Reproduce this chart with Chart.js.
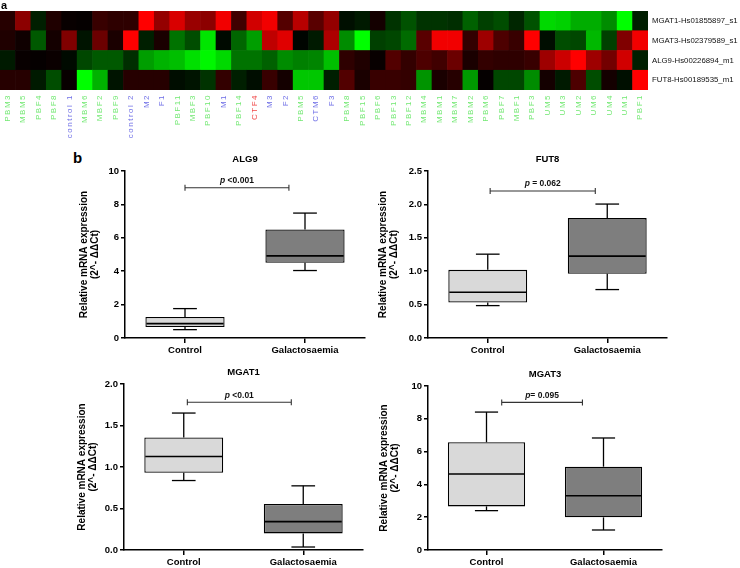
<!DOCTYPE html>
<html><head><meta charset="utf-8">
<script src="https://cdn.jsdelivr.net/npm/chart.js@4.4.1/dist/chart.umd.min.js"></script>
<style>
html,body{margin:0;padding:0;background:#fff;width:740px;height:568px;overflow:hidden;position:relative;font-family:'Liberation Sans',Arial,sans-serif}
canvas{position:absolute;display:block}
.lbl{position:absolute;font-weight:bold;color:#000;line-height:1}
</style></head><body>
<canvas id="heat" width="740" height="145" style="left:0;top:0"></canvas>
<div class="lbl" style="left:1px;top:0px;font-size:11px">a</div>
<div class="lbl" style="left:73px;top:150px;font-size:15px">b</div>
<canvas id="c1" width="320" height="225" style="left:60px;top:140px"></canvas>
<canvas id="c2" width="320" height="225" style="left:360px;top:140px"></canvas>
<canvas id="c3" width="320" height="218" style="left:60px;top:350px"></canvas>
<canvas id="c4" width="320" height="218" style="left:360px;top:350px"></canvas>
<script>
// ---------- Heatmap data (panel a) ----------
const samples = ['PBM3','MBM5','PBF4','PBF8','control 1','MBM6','MBF2','PBF9','control 2','M2','F1','PBF11','MBF3','PBF10','M1','PBF14','CTF4','M3','F2','PBM5','CTM6','F3','PBM8','PBF15','PBF6','PBF13','PBF12','MBM4','MBM1','MBM7','MBM2','PBM6','PBF7','MBF1','PBF3','UM5','UM3','UM2','UM6','UM4','UM1','PBF1'];
const sampleGroups = ['g','g','g','g','b','g','g','g','b','b','b','g','g','g','b','g','r','b','b','g','b','b','g','g','g','g','g','g','g','g','g','g','g','g','g','g','g','g','g','g','g','g'];
const genes = ['MGAT1-Hs01855897_s1','MGAT3-Hs02379589_s1','ALG9-Hs00226894_m1','FUT8-Hs00189535_m1'];
const mgat1Heat = [0.15,0.55,-0.12,0.12,0.03,0.02,0.22,0.18,0.18,1.0,0.58,0.85,0.6,0.55,0.95,0.25,0.82,0.95,0.33,0.72,0.35,0.58,-0.06,-0.1,0.08,-0.2,-0.32,-0.2,-0.2,-0.18,-0.38,-0.25,-0.3,-0.15,-0.32,-0.85,-0.82,-0.68,-0.68,-0.55,-1.0,-0.12];
const mgat3Heat = [0.12,0.06,-0.35,0.08,0.5,-0.08,0.42,0.1,1.0,-0.12,0.1,-0.45,-0.3,-0.9,-0.04,-0.4,-0.62,0.75,0.88,-0.02,-0.1,0.68,-0.55,-1.0,-0.25,-0.28,-0.42,0.35,0.95,0.95,0.2,0.62,0.3,0.22,1.0,-0.05,-0.3,-0.28,-0.72,-0.25,0.5,0.95];
const alg9Heat = [-0.1,0.03,0.02,0.04,-0.04,-0.28,-0.35,-0.35,-0.18,-0.62,-0.7,-0.75,-0.88,-0.97,-0.85,-0.45,-0.45,-0.38,-0.55,-0.5,-0.52,-0.75,0.18,0.12,0.03,0.32,0.2,0.3,0.25,0.42,0.1,0.2,0.18,0.18,0.22,0.62,0.8,1.0,0.62,0.45,0.82,-0.12];
const fut8Heat = [0.15,0.15,-0.1,-0.3,0.03,-1.0,-0.7,-0.08,0.15,0.15,0.15,-0.05,-0.08,-0.2,0.2,-0.12,-0.05,0.22,0.08,-0.78,-0.78,-0.12,0.32,0.1,0.22,0.22,0.2,-0.58,0.1,0.15,-0.6,0.02,-0.28,-0.28,-0.55,0.08,-0.1,0.3,-0.3,0.08,-0.06,1.0];

// ---------- Box plot data (panel b): [min, q1, median, q3, max] ----------
const boxGroups = ['Control','Galactosaemia'];
const alg9Control = [0.5,0.66,0.86,1.26,1.76];
const alg9Galacto = [4.04,4.5,4.92,6.5,7.48];
const fut8Control = [0.485,0.53,0.685,1.02,1.255];
const fut8Galacto = [0.725,0.96,1.225,1.795,2.005];
const mgat1Control = [0.837,0.93,1.127,1.356,1.65];
const mgat1Galacto = [0.036,0.2,0.342,0.555,0.773];
const mgat3Control = [2.4,2.66,4.63,6.57,8.41];
const mgat3Galacto = [1.22,1.99,3.31,5.08,6.83];
const alg9Ticks = [0,2,4,6,8,10];
const fut8Ticks = [0,0.5,1,1.5,2,2.5];
const mgat1Ticks = [0,0.5,1,1.5,2];
const mgat3Ticks = [0,2,4,6,8,10];

const FONT = "'Liberation Sans', Arial, sans-serif";
Chart.defaults.font.family = FONT;
Chart.defaults.color = '#000';

const groupColor = {g:'#72e872', b:'#6e6ee6', r:'#f04646'};
const heatColor = v => v >= 0 ? `rgb(${Math.round(255*v)},0,0)` : `rgb(0,${Math.round(-255*v)},0)`;
const heatRows = [mgat1Heat, mgat3Heat, alg9Heat, fut8Heat];

const spacingPlugin = {
  id: 'spacing',
  afterDatasetsDraw(chart){ chart.ctx.letterSpacing = '1.5px'; },
  afterDraw(chart){ chart.ctx.letterSpacing = '0px'; }
};

new Chart(document.getElementById('heat'), {
  type: 'bar',
  data: {
    labels: samples,
    datasets: heatRows.slice().reverse().map((row, k) => ({
      label: genes[3 - k],
      data: row.map(() => 1),
      backgroundColor: row.map(heatColor),
      borderWidth: 0,
      barPercentage: 1,
      categoryPercentage: 1
    }))
  },
  options: {
    responsive: false, animation: false,
    layout: {padding: {top: 11, left: 0, right: 0, bottom: 0}},
    plugins: {legend: {display: false}, tooltip: {enabled: false}},
    scales: {
      x: {
        stacked: true,
        grid: {display: false, drawTicks: false},
        border: {display: false},
        ticks: {autoSkip: false, minRotation: 90, maxRotation: 90, padding: 4, z: 1,
          font: {size: 8}, color: c => groupColor[sampleGroups[c.index]]},
        afterFit: s => { s.height = 55; }
      },
      y: {
        stacked: true, position: 'right', min: 0, max: 4,
        grid: {display: false, drawTicks: false},
        border: {display: false},
        afterBuildTicks: s => { s.ticks = genes.map((g, i) => ({value: 3.5 - i})); },
        ticks: {padding: 4, color: '#111', font: {size: 7.8},
          callback: v => genes[Math.round(3.5 - v)]},
        afterFit: s => { s.width = 92; }
      }
    }
  },
  plugins: [spacingPlugin]
});

// ---------- Box plot plugin ----------
const boxPlugin = {
  id: 'boxWhisk',
  afterDatasetsDraw(chart){
    const cfg = chart.options.plugins.boxWhisk;
    const {ctx} = chart; const x = chart.scales.x, y = chart.scales.y;
    const meta = chart.getDatasetMeta(0);
    ctx.save();
    ctx.strokeStyle = '#000';
    const ln = (x1,y1,x2,y2,w) => { ctx.lineWidth = w; ctx.beginPath(); ctx.moveTo(x1,y1); ctx.lineTo(x2,y2); ctx.stroke(); };
    cfg.stats.forEach((s, i) => {
      const bar = meta.data[i];
      const cx = x.getPixelForValue(i);
      const half = bar.width / 2, cap = bar.width * 0.15;
      const [mn, q1, med, q3, mx] = s.map(v => y.getPixelForValue(v));
      ln(cx, q3, cx, mx, 1.3); ln(cx - cap, mx, cx + cap, mx, 1.3);
      ln(cx, q1, cx, mn, 1.3); ln(cx - cap, mn, cx + cap, mn, 1.3);
      ln(cx - half + 1, med, cx + half - 1, med, 1.6);
    });
    ctx.restore();
  },
  afterDraw(chart){
    const cfg = chart.options.plugins.boxWhisk;
    const {ctx, chartArea} = chart; const x = chart.scales.x, y = chart.scales.y;
    ctx.save();
    ctx.fillStyle = '#000';
    ctx.font = `bold 9.5px ${FONT}`;
    ctx.textAlign = 'center'; ctx.textBaseline = 'middle';
    ctx.fillText(cfg.title, (chartArea.left + chartArea.right) / 2, chartArea.top - 11.5);
    const b = cfg.bracket;
    const x1 = x.getPixelForValue(b.from), x2 = x.getPixelForValue(b.to), by = y.getPixelForValue(b.y);
    ctx.strokeStyle = '#333'; ctx.lineWidth = 1.1;
    ctx.beginPath();
    ctx.moveTo(x1, by); ctx.lineTo(x2, by);
    ctx.moveTo(x1, by - 3); ctx.lineTo(x1, by + 3);
    ctx.moveTo(x2, by - 3); ctx.lineTo(x2, by + 3);
    ctx.stroke();
    const f1 = `italic bold 8.5px ${FONT}`, f2 = `bold 8.5px ${FONT}`;
    ctx.font = f1; const w1 = ctx.measureText(b.p).width;
    ctx.font = f2; const w2 = ctx.measureText(b.rest).width;
    const sx = (x1 + x2) / 2 - (w1 + w2) / 2, ty = by - 7;
    ctx.textAlign = 'left'; ctx.fillStyle = '#111';
    ctx.font = f1; ctx.fillText(b.p, sx, ty);
    ctx.font = f2; ctx.fillText(b.rest, sx + w1, ty);
    ctx.restore();
  }
};

function boxChart(id, title, ctrl, gal, ticksArr, maxV, fmt, bracket, g){
  return new Chart(document.getElementById(id), {
    type: 'bar',
    data: {
      labels: boxGroups,
      datasets: [{
        data: [[ctrl[1], ctrl[3]], [gal[1], gal[3]]],
        backgroundColor: ['#d9d9d9', '#7e7e7e'],
        borderColor: '#000', borderWidth: 1.3, borderSkipped: false,
        barPercentage: 0.66, categoryPercentage: 1
      }]
    },
    options: {
      responsive: false, animation: false,
      layout: {padding: {left: g.padL, top: g.padT, right: g.padR, bottom: g.padB}},
      plugins: {legend: {display: false}, tooltip: {enabled: false},
        boxWhisk: {title: title, stats: [ctrl, gal], bracket: bracket}},
      scales: {
        x: {
          grid: {offset: false, drawOnChartArea: false, drawTicks: true, tickLength: 5, color: '#000', lineWidth: 1.5},
          border: {color: '#000', width: 1.5},
          ticks: {padding: 2, color: '#000', font: {size: 9.5, weight: 'bold'}},
          afterFit: s => { s.height = 18; }
        },
        y: {
          min: 0, max: maxV,
          grid: {drawOnChartArea: false, tickLength: 4, color: '#000', lineWidth: 1.5},
          border: {color: '#000', width: 1.5},
          afterBuildTicks: s => { s.ticks = ticksArr.map(v => ({value: v})); },
          ticks: {padding: 2, color: '#000', font: {size: 9.5, weight: 'bold'}, callback: v => fmt(v)},
          title: {display: true, text: ['Relative mRNA expression', '(2^- \u0394\u0394Ct)'], color: '#000',
            font: {size: 10, weight: 'bold', lineHeight: 1.1}, padding: {top: 2, bottom: 0}},
          afterFit: s => { s.width = g.yW; }
        }
      }
    },
    plugins: [boxPlugin]
  });
}

const intFmt = v => String(v);
const decFmt = v => v.toFixed(1);
boxChart('c1', 'ALG9', alg9Control, alg9Galacto, alg9Ticks, 10, intFmt,
  {from: 0, to: 0.866, y: 9.0, p: 'p', rest: ' <0.001'},
  {padL: 17, padT: 31, padR: 15, padB: 9, yW: 48});
boxChart('c2', 'FUT8', fut8Control, fut8Galacto, fut8Ticks, 2.5, decFmt,
  {from: 0.02, to: 0.9, y: 2.2, p: 'p', rest: ' = 0.062'},
  {padL: 15.5, padT: 31, padR: 13, padB: 9, yW: 52.5});
boxChart('c3', 'MGAT1', mgat1Control, mgat1Galacto, mgat1Ticks, 2, decFmt,
  {from: 0.03, to: 0.9, y: 1.78, p: 'p', rest: ' <0.01'},
  {padL: 14.5, padT: 34, padR: 17, padB: 0, yW: 49.5});
boxChart('c4', 'MGAT3', mgat3Control, mgat3Galacto, mgat3Ticks, 10, intFmt,
  {from: 0.13, to: 0.82, y: 9.0, p: 'p', rest: '= 0.095'},
  {padL: 16.5, padT: 36, padR: 18, padB: 0, yW: 51.5});
</script>
</body></html>
